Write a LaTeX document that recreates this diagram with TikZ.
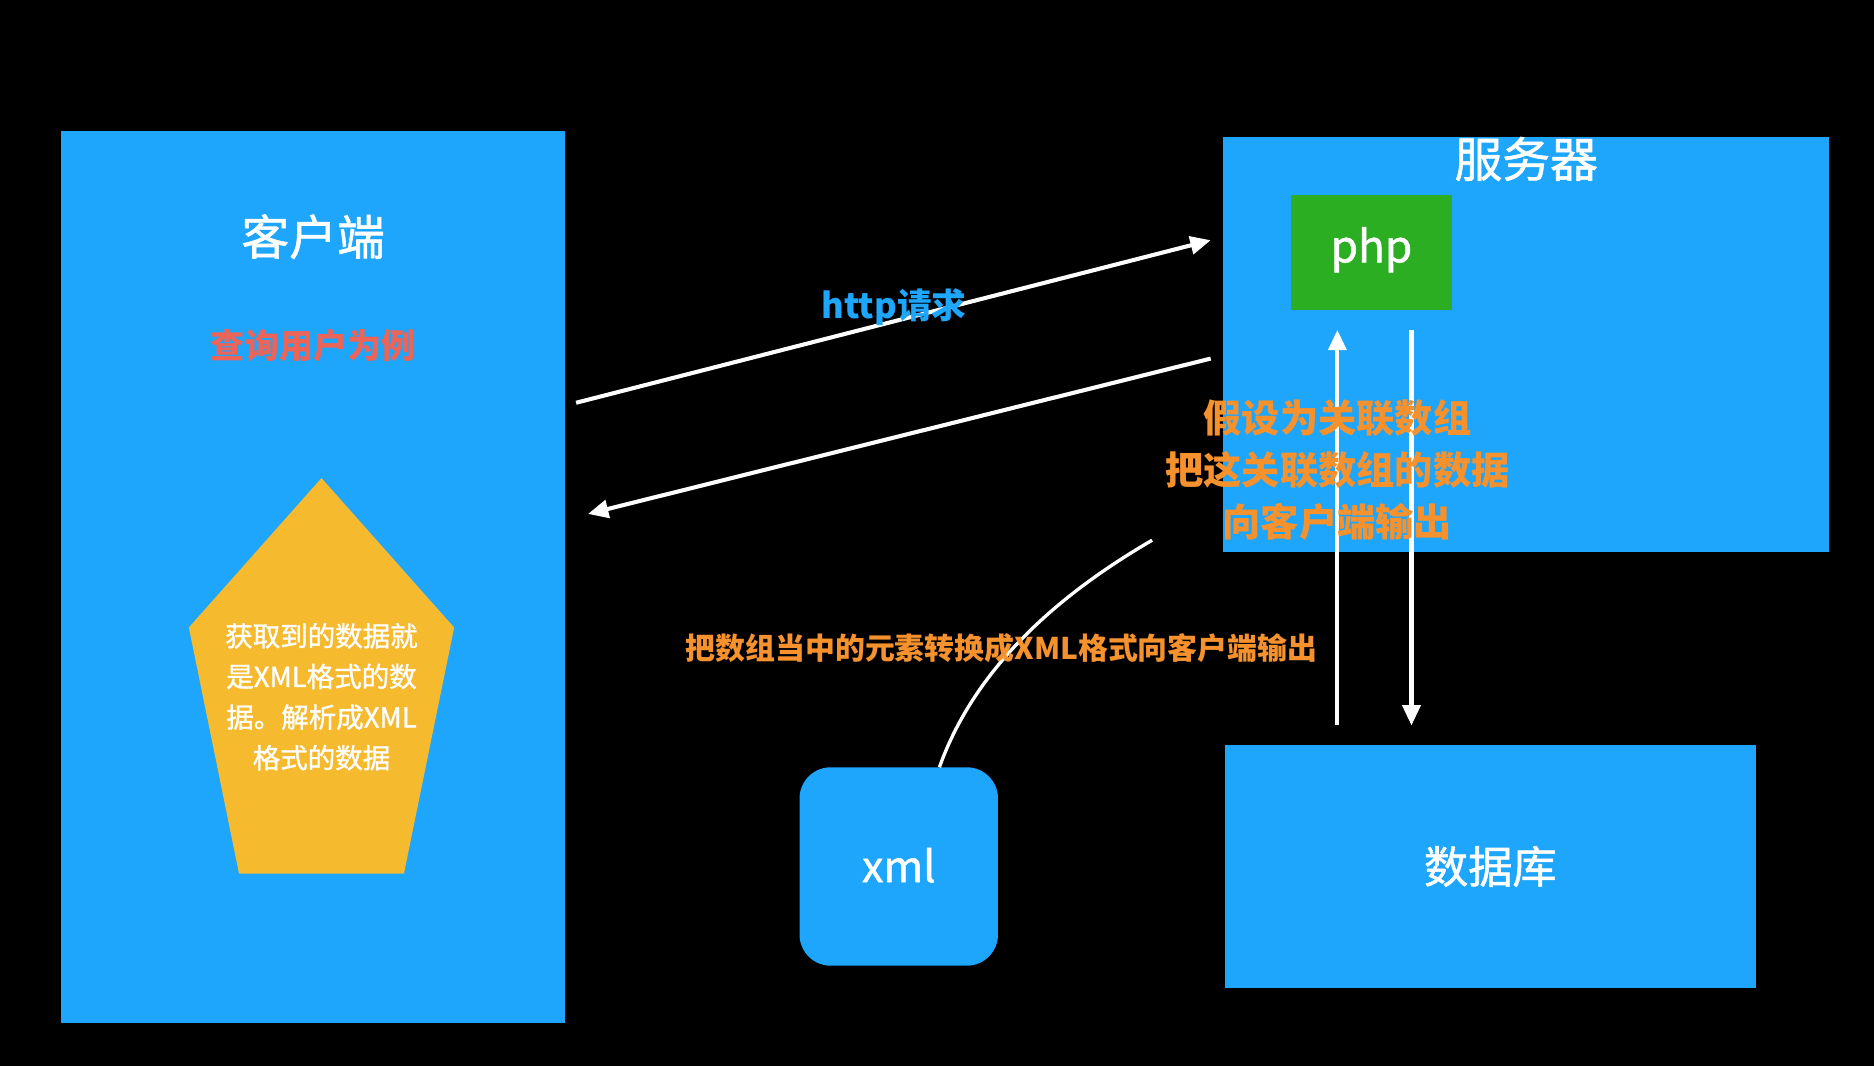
\documentclass[tikz,border=0pt]{standalone}
\usepackage{fontspec}
\setmainfont{Noto Sans CJK SC}
\newfontfamily\medfont[FakeBold=1.2]{Noto Sans CJK SC}
\usetikzlibrary{arrows.meta}
\definecolor{cblue}{RGB}{30,165,252}
\definecolor{cgreen}{RGB}{43,174,34}
\definecolor{cyellow}{RGB}{245,186,46}
\definecolor{corange}{RGB}{246,146,46}
\definecolor{cred}{RGB}{236,100,88}
\tikzset{
  box/.style={fill=cblue, inner sep=0pt, draw=none},
  wtext/.style={text=white, inner sep=0pt, align=center},
  conn/.style={draw=white, line width=3.4pt},
  arr/.style={conn, -{Triangle[length=17pt,width=15pt]}},
}
\begin{document}
\begin{tikzpicture}[x=1pt,y=-1pt]
\fill[black] (0,0) rectangle (1568,892);
\useasboundingbox (0,0) rectangle (1568,892);
% client
\node[box, minimum width=422pt, minimum height=746pt] (client) at (262,483) {};
\node[wtext, font=\medfont\fontsize{40}{44}\selectfont] (clientT) at (262,198) {客户端};
\node[inner sep=0pt, text=cred, font=\fontsize{28.5}{32}\selectfont\bfseries] (query) at (262,289) {查询用户为例};
\path[fill=cyellow] (269,400) -- (380,525) -- (338,731) -- (200,731) -- (158,525) -- cycle;
\node[wtext, font=\medfont\fontsize{23}{34}\selectfont] (pent) at (269,583) {获取到的数据就\\是XML格式的数\\据。解析成XML\\格式的数据};
% server
\node[box, minimum width=507pt, minimum height=347pt] (server) at (1276.5,288.5) {};
\node[wtext, font=\medfont\fontsize{40}{44}\selectfont] (serverT) at (1277,133) {服务器};
\node[fill=cgreen, inner sep=0pt, minimum width=135pt, minimum height=96pt] (php) at (1147.5,211) {};
\node[wtext, font=\medfont\fontsize{37}{40}\selectfont] (phpT) at (1147.5,209) {php};
% database
\node[box, minimum width=444pt, minimum height=204pt] (db) at (1247,725) {};
\node[wtext, font=\medfont\fontsize{37}{40}\selectfont] (dbT) at (1247,725) {数据库};
% xml
\node[box, rounded corners=26pt, minimum width=166pt, minimum height=166pt] (xml) at (752,725) {};
\node[wtext, font=\medfont\fontsize{36}{40}\selectfont] (xmlT) at (752,724) {xml};
% arrows
\coordinate (a1s) at (482,337);
\coordinate (a1e) at (1013,201);
\coordinate (a2s) at (1013,300);
\coordinate (a2e) at (492,430);
\draw[arr] (a1s) -- (a1e);
\draw[arr] (a2s) -- (a2e);
\coordinate (u1s) at (1119,607);
\coordinate (u1e) at (1119,276);
\coordinate (d1s) at (1181,276);
\coordinate (d1e) at (1181,607);
\draw[arr] (u1s) -- (u1e);
\draw[arr] (d1s) -- (d1e);
\coordinate (cs) at (964,452);
\coordinate (ce) at (786,642);
\draw[draw=white, line width=2.8pt] (cs) .. controls (871,506) and (812,569) .. (ce);
% labels
\node[inner sep=0pt, text=cblue, font=\fontsize{29}{32}\selectfont\bfseries] (http) at (748,257) {http请求};
\node[inner sep=0pt, align=center, text=corange, font=\fontsize{32}{43.5}\selectfont\bfseries] (assume) at (1119,393) {假设为关联数组\\把这关联数组的数据\\向客户端输出};
\node[inner sep=0pt, text=corange, font=\fontsize{25}{28}\selectfont\bfseries] (conv) at (838,542) {把数组当中的元素转换成XML格式向客户端输出};
\end{tikzpicture}
\end{document}
